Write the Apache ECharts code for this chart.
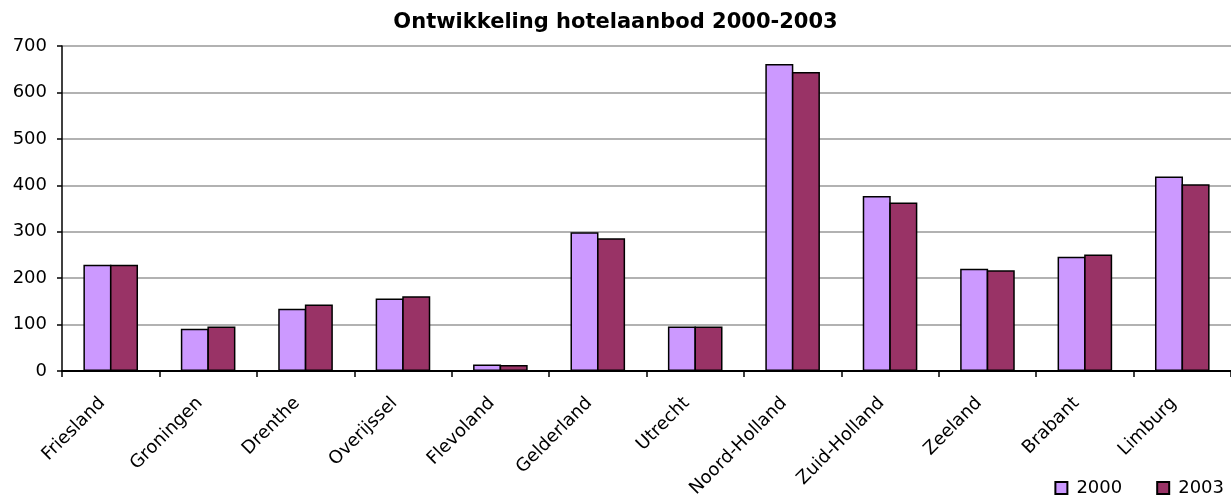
<!DOCTYPE html>
<html>
<head>
<meta charset="utf-8">
<script src="https://cdn.jsdelivr.net/npm/echarts@6/dist/echarts.min.js"></script>
<style>
html,body{margin:0;padding:0;background:#fff;}
#chart{width:1231px;height:503px;}
</style>
</head>
<body>
<div id="chart"></div>
<script>
const categories = ['Friesland','Groningen','Drenthe','Overijssel','Flevoland','Gelderland','Utrecht','Noord-Holland','Zuid-Holland','Zeeland','Brabant','Limburg'];
const seriesNames = ['2000','2003'];
const values2000 = [229, 91, 134, 156, 14, 299, 96, 661, 377, 220, 246, 419];
const values2003 = [229, 96, 143, 161, 13, 286, 96, 644, 363, 217, 251, 402];
const yTicks = [0, 100, 200, 300, 400, 500, 600, 700];

const FONT = 'DejaVu Sans';
const chart = echarts.init(document.getElementById('chart'));
chart.setOption({
  animation: false,
  backgroundColor: '#ffffff',
  title: {
    text: 'Ontwikkeling hotelaanbod 2000-2003',
    left: 'center',
    top: 7,
    padding: [5, 0, 5, 18],
    textStyle: {fontFamily: FONT, fontSize: 21, fontWeight: 'bold', color: '#000'}
  },
  legend: {
    data: seriesNames,
    right: 2,
    bottom: 1,
    itemWidth: 12,
    itemHeight: 12,
    itemGap: 34,
    textStyle: {fontFamily: FONT, fontSize: 18, color: '#000', padding: [0,0,0,4]},
    icon: 'rect'
  },
  grid: {left: 62, right: 0, top: 46, bottom: 132, containLabel: false},
  xAxis: {
    type: 'category',
    data: categories,
    axisLine: {lineStyle: {color: '#000', width: 2}},
    axisTick: {show: true, length: 6, lineStyle: {color: '#000', width: 1.5}},
    axisLabel: {
      interval: 0,
      rotate: 45,
      margin: 21,
      padding: [0, 12, 0, 0],
      fontFamily: FONT,
      fontSize: 18,
      color: '#000'
    }
  },
  yAxis: {
    type: 'value',
    min: yTicks[0],
    max: yTicks[yTicks.length-1],
    interval: 100,
    axisLine: {show: true, lineStyle: {color: '#000', width: 1.5}},
    axisTick: {show: true, length: 5, lineStyle: {color: '#000', width: 1.5}},
    axisLabel: {fontFamily: FONT, fontSize: 18, color: '#000', margin: 15},
    splitLine: {lineStyle: {color: '#999', width: 1.5}}
  },
  series: [
    {
      name: seriesNames[0], type: 'bar', data: values2000,
      barWidth: 28, barGap: '-5%',
      itemStyle: {color: '#CC99FF', borderColor: '#000', borderWidth: 1.5}
    },
    {
      name: seriesNames[1], type: 'bar', data: values2003,
      barWidth: 28,
      itemStyle: {color: '#993366', borderColor: '#000', borderWidth: 1.5}
    }
  ]
});
</script>
</body>
</html>
